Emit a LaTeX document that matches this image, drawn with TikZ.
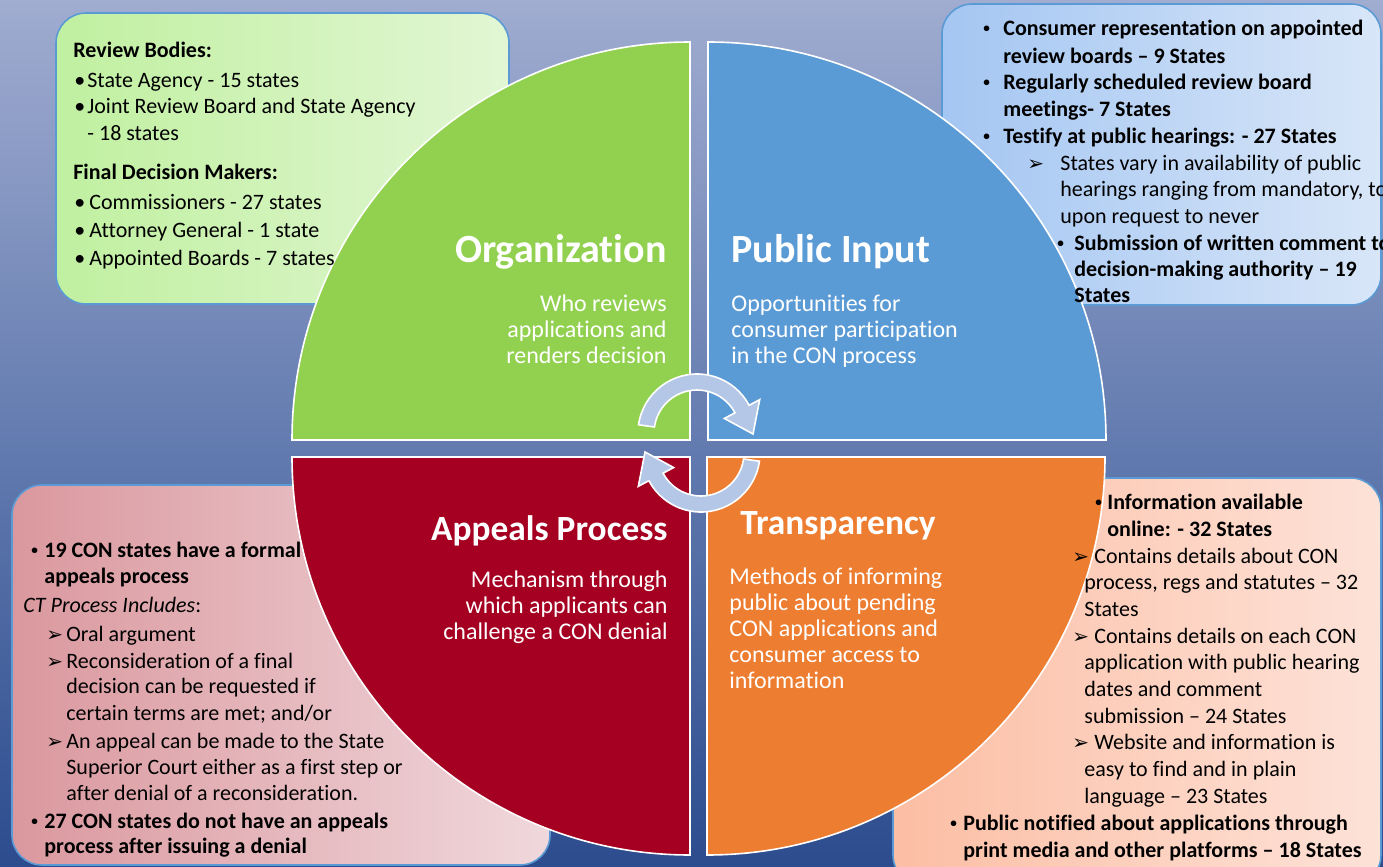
\documentclass[tikz,border=0pt]{standalone}
\usepackage{fontspec}
\setmainfont{Carlito}[Ligatures={TeX,NoCommon}]
\newfontfamily\symfont{DejaVu Sans}

\definecolor{bgtop}{RGB}{160,172,208}
\definecolor{bgmid}{RGB}{100,124,176}
\definecolor{bgbot}{RGB}{44,76,142}
\definecolor{orgfill}{RGB}{146,208,80}
\definecolor{pubfill}{RGB}{91,155,213}
\definecolor{appfill}{RGB}{165,0,33}
\definecolor{trafill}{RGB}{237,125,49}
\definecolor{orgboxA}{RGB}{192,240,160}
\definecolor{orgboxB}{RGB}{226,246,212}
\definecolor{pubboxA}{RGB}{164,198,242}
\definecolor{pubboxB}{RGB}{216,230,248}
\definecolor{appboxA}{RGB}{218,152,158}
\definecolor{appboxB}{RGB}{240,216,220}
\definecolor{traboxA}{RGB}{252,190,164}
\definecolor{traboxB}{RGB}{253,226,216}
\definecolor{boxline}{RGB}{91,155,213}
\definecolor{cyclefill}{RGB}{180,199,231}

\newcommand{\bul}[1]{\makebox[#1][l]{\textbullet}}
\newcommand{\sbul}[1]{\makebox[#1][l]{\raisebox{0.12em}{\scalebox{0.6}{\textbullet}}}}
\newcommand{\arr}[1]{\makebox[#1][l]{{\symfont\fontsize{10}{10}\selectfont ➢}}}

\begin{document}
\begin{tikzpicture}[x=0.5pt,y=-0.5pt,
    quadrant/.style={draw=white, line width=0.8pt},
    infobox/.style={draw=boxline, line width=0.8pt, rounded corners=15pt},
    boxtxt/.style={anchor=base west, inner sep=0pt, font=\fontsize{11}{13}\selectfont},
    boxbold/.style={boxtxt, font=\fontsize{11}{13}\selectfont\bfseries},
    quadtitle/.style={inner sep=0pt, text=white, font=\fontsize{20}{24}\selectfont\bfseries},
    lowtitle/.style={quadtitle, font=\fontsize{17.7}{21}\selectfont\bfseries},
    quadsub/.style={inner sep=0pt, text=white, font=\fontsize{12}{14}\selectfont},
    cyclearrow/.style={fill=cyclefill, draw=white, line width=0.8pt}]
    \clip (0,0) rectangle (1383,867);

    % Background
    \fill[top color=bgtop, bottom color=bgbot, middle color=bgmid] (0,0) rectangle (1383,867);

    % Info boxes behind the circle
    \draw[infobox, left color=orgboxA, right color=orgboxB] (56,13) rectangle (509,304);
    \draw[infobox, left color=pubboxA, right color=pubboxB] (942,4) rectangle (1381,305);
    \draw[infobox, left color=appboxA, right color=appboxB] (12,485) rectangle (550,865);
    \draw[infobox, left color=traboxA, right color=traboxB] (893,478) rectangle (1381,885);

    % The four quarters
    \fill[fill=orgfill] (690,440) -- ++(0,-398) arc[start angle=270, end angle=180, radius=398] -- cycle;
    \fill[fill=pubfill] (708,440) -- ++(0,-398) arc[start angle=270, end angle=360, radius=398] -- cycle;
    \fill[fill=appfill] (690,457) -- ++(-398,0) arc[start angle=180, end angle=90, radius=398] -- cycle;
    \fill[fill=trafill] (707,457) -- ++(398,0) arc[start angle=0, end angle=90, radius=398] -- cycle;
    \draw[quadrant] (690,440) -- ++(0,-398) arc[start angle=270, end angle=180, radius=398] -- cycle;
    \draw[quadrant] (708,440) -- ++(0,-398) arc[start angle=270, end angle=360, radius=398] -- cycle;
    \draw[quadrant] (690,457) -- ++(-398,0) arc[start angle=180, end angle=90, radius=398] -- cycle;
    \draw[quadrant] (707,457) -- ++(398,0) arc[start angle=0, end angle=90, radius=398] -- cycle;

    % Cycle arrows in the middle
    \begin{scope}[shift={(697,433)}, yscale=-1]
        \draw[cyclearrow] (172:59) arc[start angle=172, end angle=28, radius=59]
            -- (28:71) -- (56,-1) -- (28:31) -- (28:43)
            arc[start angle=28, end angle=172, radius=43] -- cycle;
    \end{scope}
    \begin{scope}[shift={(701,453)}, yscale=-1, rotate=180]
        \draw[cyclearrow] (172:59) arc[start angle=172, end angle=28, radius=59]
            -- (28:71) -- (56,-1) -- (28:31) -- (28:43)
            arc[start angle=28, end angle=172, radius=43] -- cycle;
    \end{scope}

    % Quarter titles
    \node[quadtitle, anchor=base east] (org-title) at (667,262) {Organization};
    \node[quadsub, anchor=base east] (org-s1) at (667,311) {Who reviews};
    \node[quadsub, anchor=base east] (org-s2) at (667,337) {applications and};
    \node[quadsub, anchor=base east] (org-s3) at (667,363) {renders decision};

    \node[quadtitle, anchor=base west] (pub-title) at (731,262) {Public Input};
    \node[quadsub, anchor=base west] (pub-s1) at (731,311) {Opportunities for};
    \node[quadsub, anchor=base west] (pub-s2) at (731,337) {consumer participation};
    \node[quadsub, anchor=base west] (pub-s3) at (731,363) {in the CON process};

    \node[lowtitle, anchor=base east] (app-title) at (668,540) {Appeals Process};
    \node[quadsub, anchor=base east] (app-s1) at (668,587) {Mechanism through};
    \node[quadsub, anchor=base east] (app-s2) at (668,613) {which applicants can};
    \node[quadsub, anchor=base east] (app-s3) at (668,639) {challenge a CON denial};

    \node[lowtitle, anchor=base west] (tra-title) at (740,534) {Transparency};
    \node[quadsub, anchor=base west] (tra-s1) at (729,584) {Methods of informing};
    \node[quadsub, anchor=base west] (tra-s2) at (729,610) {public about pending};
    \node[quadsub, anchor=base west] (tra-s3) at (729,636) {CON applications and};
    \node[quadsub, anchor=base west] (tra-s4) at (729,662) {consumer access to};
    \node[quadsub, anchor=base west] (tra-s5) at (729,688) {information};

    % Organization box
    \node[boxbold] (org-h1) at (73,57) {Review Bodies:};
    \node[boxtxt] (org-l1) at (74,87) {\bul{6.5pt}State Agency - 15 states};
    \node[boxtxt] (org-l2) at (74,113) {\bul{6.5pt}Joint Review Board and State Agency};
    \node[boxtxt] (org-l3) at (87,140) {- 18 states};
    \node[boxbold] (org-h2) at (73,179) {Final Decision Makers:};
    \node[boxtxt] (org-l4) at (74,209) {\bul{7.5pt}Commissioners - 27 states};
    \node[boxtxt] (org-l5) at (74,237) {\bul{7.5pt}Attorney General - 1 state};
    \node[boxtxt] (org-l6) at (74,265) {\bul{7.5pt}Appointed Boards - 7 states};

    % Public input box
    \node[boxbold] (pub-l1) at (983,35) {\sbul{10pt}Consumer representation on appointed};
    \node[boxbold] (pub-l2) at (1003,63) {review boards -- 9 States};
    \node[boxbold] (pub-l3) at (983,89) {\sbul{10pt}Regularly scheduled review board};
    \node[boxbold] (pub-l4) at (1003,116) {meetings- 7 States};
    \node[boxbold] (pub-l5) at (983,143) {\sbul{10pt}Testify at public hearings: - 27 States};
    \node[boxtxt] (pub-l6) at (1027,170) {\arr{16.5pt}States vary in availability of public};
    \node[boxtxt] (pub-l7) at (1060,196) {hearings ranging from mandatory, to};
    \node[boxtxt] (pub-l8) at (1060,223) {upon request to never};
    \node[boxbold] (pub-l9) at (1057,250) {\sbul{8.5pt}Submission of written comment to};
    \node[boxbold] (pub-l10) at (1074,276) {decision-making authority -- 19};
    \node[boxbold] (pub-l11) at (1074,302) {States};

    % Appeals box
    \node[boxbold] (app-l1) at (31,557) {\sbul{6.5pt}19 CON states have a formal};
    \node[boxbold] (app-l2) at (44,583) {appeals process};
    \node[boxtxt] (app-l3) at (23,612) {\textit{CT Process Includes}:};
    \node[boxtxt] (app-l4) at (46,641) {\arr{10pt}Oral argument};
    \node[boxtxt] (app-l5) at (46,668) {\arr{10pt}Reconsideration of a final};
    \node[boxtxt] (app-l6) at (66,693) {decision can be requested if};
    \node[boxtxt] (app-l7) at (66,720) {certain terms are met; and/or};
    \node[boxtxt] (app-l8) at (46,748) {\arr{10pt}An appeal can be made to the State};
    \node[boxtxt] (app-l9) at (66,774) {Superior Court either as a first step or};
    \node[boxtxt] (app-l10) at (66,800) {after denial of a reconsideration.};
    \node[boxbold] (app-l11) at (31,828) {\sbul{6.5pt}27 CON states do not have an appeals};
    \node[boxbold] (app-l12) at (44,853) {process after issuing a denial};

    % Transparency box
    \node[boxbold] (tra-l1) at (1095,509) {\sbul{6pt}Information available};
    \node[boxbold] (tra-l2) at (1107,536) {online: - 32 States};
    \node[boxtxt] (tra-l3) at (1072,563) {\arr{11pt}Contains details about CON};
    \node[boxtxt] (tra-l4) at (1084,589) {process, regs and statutes -- 32};
    \node[boxtxt] (tra-l5) at (1084,616) {States};
    \node[boxtxt] (tra-l6) at (1072,643) {\arr{11pt}Contains details on each CON};
    \node[boxtxt] (tra-l7) at (1084,669) {application with public hearing};
    \node[boxtxt] (tra-l8) at (1084,696) {dates and comment};
    \node[boxtxt] (tra-l9) at (1084,723) {submission -- 24 States};
    \node[boxtxt] (tra-l10) at (1072,749) {\arr{11pt}Website and information is};
    \node[boxtxt] (tra-l11) at (1084,776) {easy to find and in plain};
    \node[boxtxt] (tra-l12) at (1084,803) {language -- 23 States};
    \node[boxbold] (tra-l13) at (950,830) {\sbul{6.5pt}Public notified about applications through};
    \node[boxbold] (tra-l14) at (963,857) {print media and other platforms -- 18 States};
\end{tikzpicture}
\end{document}
